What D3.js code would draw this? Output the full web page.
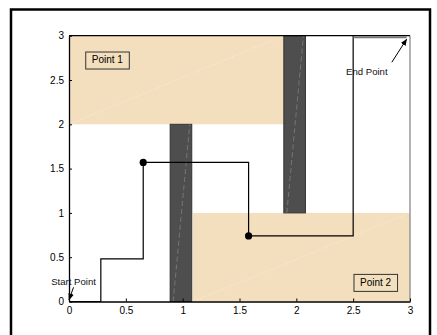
<!DOCTYPE html>
<html><head><meta charset="utf-8">
<script src="https://cdn.jsdelivr.net/npm/d3@7"></script>
<style>body{margin:0;background:#fff}svg{display:block}text{font-family:"Liberation Sans",Arial,sans-serif}</style>
</head><body>
<script>
// data
const xTicks = [0, 0.5, 1, 1.5, 2, 2.5, 3];
const yTicks = [0, 0.5, 1, 1.5, 2, 2.5, 3];
const zonesX0 = [0, 1.09];
const zonesX1 = [1.89, 3];
const zonesY0 = [2, 0];
const zonesY1 = [3, 1];
const zoneLabels = ["Point 1", "Point 2"];
const labelX = [0.2, 2.56];
const labelY = [2.72, 0.21];
const barX0 = [0.89, 1.89];
const barX1 = [1.08, 2.08];
const barY0 = [0, 1];
const barY1 = [2, 3];
const pathX = [0, 0.28, 0.28, 0.653, 0.653, 1.58, 1.58, 2.5, 2.5];
const pathY = [0, 0, 0.48, 0.48, 1.57, 1.57, 0.74, 0.74, 3];
const endX = [2.5, 2.97];
const endY = [2.98, 2.98];
const markerX = [0.653, 1.58];
const markerY = [1.57, 0.74];
const annText = ["Start Point", "End Point"];
const annTextX = [0.04, 2.62];
const annTextY = [0.185, 2.56];
const annTailX = [0.04, 2.84];
const annTailY = [0.16, 2.70];
const annTipX = [0.0, 2.97];
const annTipY = [0.02, 2.96];

const W = 437, H = 335;
const svg = d3.select("body").append("svg").attr("width", W).attr("height", H);
const x = d3.scaleLinear().domain([0, 3]).range([69, 410]);
const y = d3.scaleLinear().domain([0, 3]).range([301.5, 35.7]);
const tan = "#f3dfbd", bar = "#4e4e4e";

// outer frame
svg.append("rect").attr("x", 11).attr("y", 9.5).attr("width", 419).attr("height", 340)
  .attr("fill", "none").attr("stroke", "#000").attr("stroke-width", 2.5);

svg.append("defs").append("marker").attr("id", "ah").attr("viewBox", "0 0 10 10")
  .attr("refX", 9).attr("refY", 5).attr("markerWidth", 7).attr("markerHeight", 7)
  .attr("orient", "auto").append("path").attr("d", "M0,1 L10,5 L0,9 z").attr("fill", "#000");

// zones
zonesX0.forEach((_, i) => {
  svg.append("rect").attr("x", x(zonesX0[i])).attr("y", y(zonesY1[i]))
    .attr("width", x(zonesX1[i]) - x(zonesX0[i])).attr("height", y(zonesY0[i]) - y(zonesY1[i]))
    .attr("fill", tan);
  svg.append("line").attr("x1", x(zonesX0[i])).attr("y1", y(zonesY0[i]))
    .attr("x2", x(zonesX1[i])).attr("y2", y(zonesY1[i]))
    .attr("stroke", "#fff").attr("stroke-opacity", 0.45).attr("stroke-dasharray", "2,2").attr("stroke-width", 0.7);
});
// bars
barX0.forEach((_, i) => {
  svg.append("rect").attr("x", x(barX0[i])).attr("y", y(barY1[i]))
    .attr("width", x(barX1[i]) - x(barX0[i])).attr("height", y(barY0[i]) - y(barY1[i]))
    .attr("fill", bar).attr("stroke", "#333").attr("stroke-width", 1);
  svg.append("line").attr("x1", x(barX0[i]) + 3).attr("y1", y(barY0[i]))
    .attr("x2", x(barX1[i]) - 2).attr("y2", y(barY1[i]))
    .attr("stroke", "#aaa").attr("stroke-opacity", 0.6).attr("stroke-dasharray", "5,3").attr("stroke-width", 0.7);
});

// path
const line = d3.line().x(d => x(d[0])).y(d => y(d[1]));
svg.append("path").attr("d", line(pathX.map((v, i) => [v, pathY[i]])))
  .attr("fill", "none").attr("stroke", "#000").attr("stroke-width", 1.2);
svg.append("path").attr("d", line(endX.map((v, i) => [v, endY[i]])))
  .attr("fill", "none").attr("stroke", "#777").attr("stroke-width", 1.8);
markerX.forEach((v, i) => {
  svg.append("circle").attr("cx", x(v)).attr("cy", y(markerY[i])).attr("r", 3.6).attr("fill", "#000");
});

// axes box
svg.append("line").attr("x1", x(3)).attr("x2", x(3)).attr("y1", y(0)).attr("y2", y(3)).attr("stroke", "#888").attr("stroke-width", 1.3);
svg.append("line").attr("x1", x(0)).attr("x2", x(3)).attr("y1", y(3)).attr("y2", y(3)).attr("stroke", "#000").attr("stroke-width", 1.2);
const xa = svg.append("g").attr("transform", `translate(0,${y(0)})`)
  .call(d3.axisBottom(x).tickValues(xTicks).tickSizeInner(-3).tickSizeOuter(0).tickPadding(5).tickFormat(d3.format("")));
const ya = svg.append("g").attr("transform", `translate(${x(0)},0)`)
  .call(d3.axisLeft(y).tickValues(yTicks).tickSizeInner(-3).tickSizeOuter(0).tickPadding(5).tickFormat(d3.format("")));
[xa, ya].forEach(a => {
  a.select(".domain").attr("stroke", "#000").attr("stroke-width", 1.3);
  a.selectAll("text").attr("font-size", 10).attr("fill", "#000").attr("font-family", "Liberation Sans, Arial");
  a.selectAll(".tick line").attr("stroke", "#000");
});

// zone labels
zoneLabels.forEach((t, i) => {
  const g = svg.append("g");
  const tx = g.append("text").attr("x", x(labelX[i])).attr("y", y(labelY[i]))
    .attr("font-size", 10).attr("dominant-baseline", "middle").text(t);
  const b = tx.node().getBBox();
  g.insert("rect", "text").attr("x", b.x - 6).attr("y", y(labelY[i]) - 8.5)
    .attr("width", b.width + 12).attr("height", 17).attr("fill", tan).attr("stroke", "#333").attr("stroke-width", 1);
});

// annotations
annText.forEach((t, i) => {
  svg.append("text").attr("x", x(annTextX[i])).attr("y", y(annTextY[i]))
    .attr("text-anchor", "middle").attr("font-size", 9.6).attr("fill", "#111").text(t);
  svg.append("line").attr("x1", x(annTailX[i])).attr("y1", y(annTailY[i]))
    .attr("x2", x(annTipX[i])).attr("y2", y(annTipY[i]))
    .attr("stroke", "#000").attr("stroke-width", 1).attr("marker-end", "url(#ah)");
});
</script>
</body></html>
